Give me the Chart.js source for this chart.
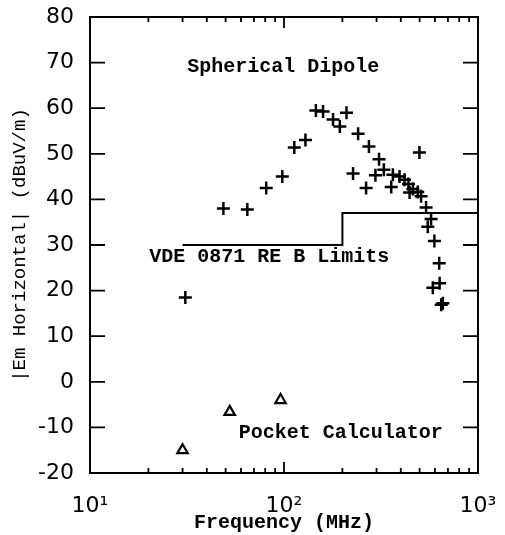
<!DOCTYPE html>
<html>
<head>
<meta charset="utf-8">
<script src="https://cdn.jsdelivr.net/npm/chart.js@4.4.1/dist/chart.umd.min.js"></script>
<style>
  html, body { margin: 0; padding: 0; background: #fff; }
  #wrap { width: 505px; height: 535px; }
</style>
</head>
<body>
<div id="wrap"><canvas id="chart" width="505" height="535"></canvas></div>
<script>
// Spherical dipole measurements (+)
const dipoleFreq = [31, 48.7, 64.7, 81, 98, 113, 129, 146, 159, 179, 194, 210, 227, 241, 265, 274,
  296, 309, 327, 357, 364, 394, 418, 438, 444, 462, 489, 499, 509, 540, 551, 573, 585, 596, 631, 634, 646, 659];
const dipoleLevel = [18.5, 38, 37.8, 42.5, 45, 51.4, 53, 59.5, 59.3, 57.5, 56, 59, 45.7, 54.4, 42.5, 51.6,
  45.3, 48.8, 46.5, 42.7, 45.4, 45, 44.3, 43.4, 41.5, 42.3, 41.6, 50.3, 40.7, 38.2, 34, 35.7, 20.6, 30.9, 26, 21.6, 16.9, 17.2];

// Pocket calculator (triangles)
const calcFreq = [30, 52.5, 96];
const calcLevel = [-15, -6.6, -4];

// VDE 0871 RE B limit line
const limitFreq = [30, 200, 200, 1000];
const limitLevel = [30, 30, 37, 37];

const xTicks = [10, 100, 1000];
const xTickLabels = ["10\u00b9", "10\u00b2", "10\u00b3"];
const xMinor = [20, 30, 40, 50, 60, 70, 80, 90, 200, 300, 400, 500, 600, 700, 800, 900];

const notes = [
  { text: "Spherical Dipole", f: 99, v: 69 },
  { text: "VDE 0871 RE B Limits", f: 84, v: 27.3 },
  { text: "Pocket Calculator", f: 196, v: -11.3 }
];

const toPoints = (xs, ys) => xs.map((x, i) => ({ x, y: ys[i] }));

const MONO = "'Liberation Mono', 'DejaVu Sans Mono', monospace";
const SANS = "'DejaVu Sans', sans-serif";

const framePlugin = {
  id: "frame",
  afterDraw(chart) {
    const { ctx, chartArea: a, scales } = chart;
    const x = scales.x, y = scales.y;
    ctx.save();
    ctx.strokeStyle = "#000";
    ctx.lineWidth = 2;
    ctx.strokeRect(a.left, a.top, a.right - a.left, a.bottom - a.top);

    ctx.beginPath();
    // y major ticks on both sides
    for (let v = -10; v <= 70; v += 10) {
      const py = y.getPixelForValue(v);
      ctx.moveTo(a.left, py); ctx.lineTo(a.left + 15, py);
      ctx.moveTo(a.right, py); ctx.lineTo(a.right - 15, py);
    }
    // x ticks top and bottom
    xMinor.forEach((f) => {
      const px = x.getPixelForValue(f);
      ctx.moveTo(px, a.bottom); ctx.lineTo(px, a.bottom - 5);
      ctx.moveTo(px, a.top); ctx.lineTo(px, a.top + 5);
    });
    const p100 = x.getPixelForValue(100);
    ctx.moveTo(p100, a.bottom); ctx.lineTo(p100, a.bottom - 11);
    ctx.moveTo(p100, a.top); ctx.lineTo(p100, a.top + 11);
    ctx.lineWidth = 1.8;
    ctx.stroke();

    ctx.fillStyle = "#000";
    ctx.font = "bold 20px " + MONO;
    ctx.textAlign = "center";
    ctx.textBaseline = "middle";
    notes.forEach((n) => {
      ctx.fillText(n.text, x.getPixelForValue(n.f), y.getPixelForValue(n.v));
    });
    ctx.restore();
  }
};

document.addEventListener("DOMContentLoaded", () => {
  Chart.defaults.color = "#000";
  new Chart(document.getElementById("chart"), {
    type: "scatter",
    data: {
      datasets: [
        {
          label: "limit",
          data: toPoints(limitFreq, limitLevel),
          showLine: true,
          borderColor: "#000",
          borderWidth: 2,
          pointRadius: 0
        },
        {
          label: "Spherical Dipole",
          data: toPoints(dipoleFreq, dipoleLevel),
          pointStyle: "cross",
          pointRadius: 6.5,
          borderColor: "#000",
          borderWidth: 2.5
        },
        {
          label: "Pocket Calculator",
          data: toPoints(calcFreq, calcLevel),
          pointStyle: "triangle",
          pointRadius: 6,
          borderColor: "#000",
          backgroundColor: "#fff",
          borderWidth: 2.2
        }
      ]
    },
    options: {
      responsive: false,
      animation: false,
      layout: { padding: { left: 0, right: 27, top: 17, bottom: 0 } },
      plugins: { legend: { display: false }, tooltip: { enabled: false } },
      scales: {
        x: {
          type: "logarithmic",
          min: 10,
          max: 1000,
          grid: { display: false },
          border: { display: false },
          afterBuildTicks: (s) => { s.ticks = xTicks.map((v) => ({ value: v })); },
          afterFit: (s) => {
            s.height = 62;
            s.paddingLeft = 0;
            s.paddingRight = 0;
          },
          ticks: {
            padding: 12,
            maxRotation: 0,
            font: { family: SANS, size: 22 },
            callback: (v) => xTickLabels[xTicks.indexOf(v)] || ""
          },
          title: {
            display: true,
            text: "Frequency (MHz)",
            font: { family: MONO, size: 20, weight: "bold" },
            padding: { top: 0, bottom: 0 }
          }
        },
        y: {
          min: -20,
          max: 80,
          grid: { display: false },
          border: { display: false },
          afterFit: (s) => {
            s.width = 90;
            s.paddingTop = 0;
            s.paddingBottom = 0;
          },
          ticks: {
            stepSize: 10,
            padding: 8,
            font: { family: SANS, size: 22 }
          },
          title: {
            display: true,
            text: "|Em Horizontal| (dBuV/m)",
            font: { family: MONO, size: 19 },
            padding: { top: 9, bottom: 0 }
          }
        }
      }
    },
    plugins: [framePlugin]
  });
});
</script>
</body>
</html>
